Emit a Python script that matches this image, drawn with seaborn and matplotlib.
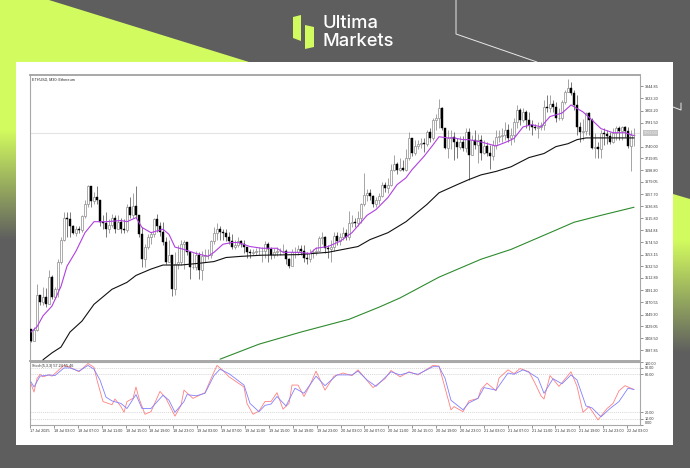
# plot.py
# ETHUSD M30 candles with moving averages and stochastic panel,
# on the Ultima Markets card background.

import numpy as np
import matplotlib
matplotlib.use('Agg')
import matplotlib.pyplot as plt
from matplotlib.patches import Polygon, Rectangle
import seaborn as sns

# ── data ────────────────────────────────────────────────────
closes = [3404, 3422, 3483, 3471, 3479, 3467, 3514, 3479, 3493, 3541,
          3579, 3617, 3614, 3602, 3591, 3597, 3595, 3619, 3641, 3671,
          3645, 3652, 3648, 3610, 3607, 3597, 3605, 3617, 3597, 3610,
          3597, 3595, 3636, 3621, 3638, 3621, 3588, 3545, 3566, 3583,
          3588, 3614, 3603, 3593, 3574, 3540, 3553, 3493, 3536, 3541,
          3571, 3574, 3557, 3531, 3531, 3553, 3526, 3550, 3552, 3553,
          3576, 3591, 3597, 3593, 3590, 3584, 3576, 3567, 3569, 3576,
          3571, 3566, 3557, 3555, 3557, 3559, 3559, 3559, 3572, 3562,
          3553, 3557, 3559, 3559, 3560, 3545, 3533, 3557, 3557, 3562,
          3559, 3548, 3545, 3555, 3557, 3559, 3581, 3584, 3564, 3562,
          3567, 3586, 3576, 3584, 3591, 3583, 3607, 3609, 3607, 3617,
          3640, 3657, 3659, 3655, 3640, 3647, 3654, 3674, 3669, 3674,
          3700, 3710, 3700, 3703, 3700, 3721, 3755, 3729, 3741, 3745,
          3747, 3745, 3766, 3755, 3786, 3790, 3807, 3772, 3738, 3755,
          3757, 3748, 3740, 3748, 3738, 3766, 3726, 3752, 3743, 3752,
          3729, 3741, 3729, 3723, 3743, 3757, 3759, 3760, 3769, 3755,
          3760, 3783, 3804, 3786, 3800, 3786, 3778, 3774, 3772, 3774,
          3778, 3809, 3807, 3814, 3809, 3790, 3790, 3817, 3835, 3842,
          3833, 3812, 3774, 3766, 3767, 3798, 3786, 3738, 3740, 3735,
          3764, 3762, 3759, 3748, 3764, 3772, 3767, 3774, 3767, 3741,
          3760, 3760]
highs = [3419, 3427, 3503, 3483, 3497, 3495, 3526, 3517, 3497, 3545,
         3584, 3626, 3626, 3626, 3605, 3603, 3603, 3622, 3648, 3674,
         3671, 3662, 3671, 3648, 3622, 3626, 3614, 3624, 3622, 3622,
         3617, 3614, 3640, 3652, 3659, 3671, 3610, 3600, 3572, 3588,
         3593, 3617, 3624, 3610, 3610, 3583, 3579, 3553, 3557, 3569,
         3579, 3579, 3574, 3559, 3555, 3559, 3557, 3559, 3562, 3562,
         3579, 3600, 3608, 3603, 3597, 3597, 3593, 3588, 3579, 3583,
         3579, 3579, 3567, 3562, 3562, 3564, 3566, 3566, 3576, 3574,
         3566, 3564, 3566, 3564, 3572, 3562, 3548, 3562, 3566, 3569,
         3569, 3569, 3557, 3562, 3562, 3566, 3586, 3593, 3586, 3569,
         3579, 3593, 3593, 3591, 3600, 3598, 3628, 3621, 3617, 3628,
         3643, 3695, 3666, 3666, 3657, 3652, 3659, 3679, 3678, 3686,
         3709, 3726, 3714, 3721, 3717, 3735, 3766, 3755, 3752, 3752,
         3755, 3755, 3769, 3772, 3790, 3797, 3823, 3809, 3772, 3769,
         3769, 3765, 3755, 3759, 3759, 3772, 3772, 3760, 3769, 3762,
         3760, 3752, 3748, 3743, 3752, 3769, 3769, 3772, 3783, 3779,
         3772, 3790, 3812, 3807, 3807, 3804, 3800, 3786, 3779, 3783,
         3783, 3821, 3829, 3829, 3821, 3817, 3807, 3821, 3838, 3857,
         3852, 3838, 3829, 3783, 3788, 3800, 3800, 3790, 3764, 3748,
         3769, 3772, 3769, 3766, 3772, 3776, 3776, 3776, 3776, 3774,
         3769, 3772]
lows = [3402, 3410, 3421, 3465, 3465, 3462, 3476, 3476, 3476, 3479,
        3536, 3576, 3584, 3584, 3588, 3586, 3591, 3593, 3617, 3635,
        3636, 3641, 3640, 3603, 3597, 3584, 3591, 3600, 3591, 3597,
        3591, 3591, 3593, 3617, 3617, 3617, 3584, 3531, 3531, 3562,
        3571, 3584, 3593, 3586, 3569, 3536, 3541, 3481, 3483, 3528,
        3535, 3528, 3552, 3510, 3528, 3526, 3510, 3509, 3541, 3545,
        3548, 3571, 3579, 3579, 3579, 3576, 3572, 3562, 3562, 3567,
        3567, 3555, 3548, 3548, 3552, 3552, 3552, 3541, 3548, 3541,
        3545, 3548, 3550, 3552, 3555, 3536, 3529, 3535, 3548, 3552,
        3552, 3540, 3536, 3541, 3548, 3552, 3559, 3571, 3555, 3548,
        3541, 3559, 3569, 3569, 3579, 3579, 3579, 3600, 3600, 3603,
        3607, 3638, 3645, 3648, 3635, 3635, 3641, 3652, 3662, 3659,
        3672, 3697, 3693, 3697, 3697, 3697, 3717, 3724, 3726, 3735,
        3738, 3731, 3741, 3748, 3752, 3769, 3772, 3769, 3735, 3721,
        3735, 3717, 3721, 3735, 3733, 3731, 3683, 3726, 3735, 3712,
        3717, 3728, 3724, 3702, 3717, 3735, 3748, 3748, 3752, 3748,
        3743, 3748, 3772, 3778, 3783, 3772, 3769, 3760, 3769, 3755,
        3769, 3769, 3800, 3800, 3800, 3783, 3786, 3786, 3814, 3835,
        3829, 3804, 3760, 3748, 3752, 3760, 3760, 3735, 3721, 3721,
        3721, 3743, 3745, 3745, 3747, 3752, 3752, 3752, 3757, 3738,
        3697, 3741]
first_open = 3425

ma_fast_i = [0, 2, 4, 7, 10, 12, 15, 18, 21, 25, 30, 32, 35, 37, 40, 44, 46, 48, 51, 55, 59,
             61, 64, 67, 69, 73, 77, 82, 84, 89, 93, 95, 99, 103, 107, 112, 115, 119, 122, 125,
             127, 131, 134, 136, 139, 141, 144, 146, 150, 155, 158, 161, 164, 167, 170, 173,
             177, 180, 184, 187, 190, 194, 198, 201]
ma_fast = [3419, 3428, 3447, 3464, 3498, 3533, 3559, 3591, 3610, 3610, 3612, 3610, 3617, 3600,
           3591, 3597, 3588, 3566, 3562, 3555, 3550, 3557, 3571, 3574, 3574, 3567, 3564, 3564,
           3557, 3557, 3555, 3564, 3567, 3576, 3591, 3621, 3631, 3652, 3674, 3686, 3700, 3723,
           3743, 3757, 3755, 3755, 3752, 3752, 3748, 3741, 3747, 3754, 3774, 3778, 3774, 3792,
           3798, 3812, 3800, 3786, 3771, 3764, 3764, 3759]

ma_mid_i = [4, 7, 10, 13, 17, 21, 27, 32, 35, 40, 44, 50, 56, 61, 65, 70, 77, 89, 99, 104, 109,
            113, 119, 125, 132, 136, 142, 146, 150, 155, 160, 166, 171, 175, 179, 182, 185,
            192, 201]
ma_mid = [3371, 3383, 3393, 3419, 3438, 3467, 3493, 3505, 3517, 3528, 3535, 3535, 3538, 3541,
          3548, 3550, 3552, 3553, 3557, 3562, 3567, 3579, 3591, 3610, 3640, 3660, 3674, 3683,
          3691, 3697, 3705, 3721, 3728, 3740, 3745, 3752, 3755, 3755, 3755]

ma_slow_i = [63, 70, 76, 90, 106, 116, 123, 136, 150, 160, 173, 181, 190, 201]
ma_slow = [3372, 3386, 3398, 3419, 3441, 3462, 3478, 3514, 3545, 3562, 3591, 3609, 3621, 3635]

stoch_red_i = [0, 1, 2, 3, 4, 6, 7, 10, 11, 13, 16, 19, 21, 22, 24, 27, 28, 30, 31, 32, 34, 35, 36,
               38, 40, 43, 45, 48, 50, 51, 54, 58, 60, 62, 64, 66, 71, 72, 74, 76, 78, 80, 82, 84,
               86, 87, 89, 91, 93, 95, 98, 101, 104, 107, 109, 111, 114, 118, 120, 123, 126, 129,
               134, 136, 137, 140, 141, 144, 146, 149, 150, 152, 155, 156, 159, 161, 163, 166,
               168, 170, 171, 173, 176, 180, 182, 184, 186, 189, 192, 194, 196, 198, 201]
stoch_red = [65, 52, 73, 80, 76, 79, 77, 90, 94, 91, 84, 97, 91, 71, 37, 32, 41, 29, 20, 37, 42, 60,
             42, 17, 21, 53, 42, 14, 31, 55, 42, 51, 73, 94, 86, 76, 60, 34, 17, 22, 37, 37, 51, 25,
             34, 63, 63, 45, 63, 85, 55, 77, 82, 78, 87, 76, 59, 73, 86, 76, 84, 79, 94, 93, 76, 24,
             29, 21, 38, 42, 56, 66, 54, 74, 87, 81, 89, 84, 66, 46, 41, 78, 61, 84, 61, 20, 29, 8,
             26, 34, 54, 62, 56]

stoch_blue_i = [0, 1, 3, 6, 8, 11, 13, 16, 19, 21, 23, 25, 27, 30, 32, 35, 37, 40, 44, 46, 48, 51,
                52, 55, 58, 61, 63, 66, 71, 73, 76, 78, 80, 82, 85, 88, 91, 95, 98, 102, 107, 109,
                112, 115, 120, 123, 126, 129, 134, 136, 138, 140, 144, 146, 149, 151, 155, 159,
                161, 164, 166, 169, 171, 174, 177, 180, 182, 185, 187, 190, 193, 196, 199, 201]
stoch_blue = [68, 60, 77, 79, 78, 90, 90, 85, 94, 88, 71, 44, 38, 34, 26, 48, 26, 26, 47, 39, 20, 37,
              48, 46, 50, 78, 88, 81, 63, 34, 21, 31, 33, 45, 30, 58, 50, 77, 62, 79, 79, 85, 71, 61,
              84, 79, 83, 80, 92, 92, 74, 39, 24, 35, 42, 59, 55, 82, 80, 87, 83, 74, 50, 73, 65, 79,
              71, 30, 27, 13, 26, 37, 58, 56]

time_labels = ["17 Jul 2025"] + [f"{d} Jul {h}" for d in (18, 19, 20, 21)
                                 for h in ("03:00", "07:00", "11:00", "15:00", "19:00", "23:00")] + ["22 Jul 03:00"]
price_ticks = [3844.85, 3823.30, 3802.20, 3781.50, 3740.00, 3719.85, 3698.80, 3679.05, 3657.70,
               3636.85, 3615.80, 3594.84, 3574.50, 3553.15, 3532.50, 3512.89, 3491.20, 3470.55,
               3449.30, 3429.05, 3408.50, 3387.85]
last_price = 3763.0
stoch_levels = [90, 80, 20, 10]
stoch_ticks = [100, 90, 80, 20, 10, 0]

# ── colours ─────────────────────────────────────────────────
GREY = '#5e5e5e'
LIME = '#d2fb5f'
FRAME = '#a8a8a8'

W, H = 690, 468
sns.set_theme(style='white')
plt.rcParams['font.family'] = ['Liberation Sans', 'DejaVu Sans']

fig = plt.figure(figsize=(W / 100, H / 100), dpi=100, facecolor=GREY)

# ── background + card, in pixel coordinates ─────────────────
bg = fig.add_axes([0, 0, 1, 1], zorder=0)
bg.set_xlim(0, W)
bg.set_ylim(H, 0)
bg.axis('off')


def fade(y0, y1, x0, x1, clip):
    ys = np.linspace(0, 1, 200)[:, None]
    lime = np.array(matplotlib.colors.to_rgb(LIME))
    grey = np.array(matplotlib.colors.to_rgb(GREY))
    img = (lime * (1 - ys) + grey * ys)[:, None, :]
    im = bg.imshow(img, extent=(x0, x1, y1, y0), aspect='auto', zorder=1)
    im.set_clip_path(Polygon(clip, transform=bg.transData))


# left lime wedge and right lime strip
fade(130, 240, 0, 16, [(0, 130), (16, 130), (16, 240), (0, 240)])
bg.add_patch(Polygon([(0, 0), (49, 0), (249, 62), (16, 62), (16, 130), (0, 130)], color=LIME, lw=0, zorder=1))
fade(240, 353, 673, 690, [(673, 240), (690, 240), (690, 353), (673, 353)])
bg.add_patch(Polygon([(673, 194), (690, 199), (690, 240), (673, 240)], color=LIME, lw=0, zorder=1))
bg.set_xlim(0, W)
bg.set_ylim(H, 0)

# thin white outline
bg.plot([456, 456, 537], [0, 34, 62], color='#e8e8e8', lw=0.7, zorder=2)
bg.plot([673, 681, 681], [107, 110, 103], color='#e8e8e8', lw=0.7, zorder=2)

bg.add_patch(Rectangle((16, 62), 657, 383, color='white', lw=0, zorder=3))

# logo
bg.add_patch(Polygon([(293, 17), (301, 15), (301, 41), (293, 38)], color=LIME, lw=0, zorder=4))
bg.add_patch(Polygon([(305, 25), (314, 27), (314, 47), (305, 49)], color=LIME, lw=0, zorder=4))
bg.text(322, 24, "Ultima", color='white', fontsize=13.2, family='Inter', weight='medium', va='center', zorder=4)
bg.text(322, 42, "Markets", color='white', fontsize=13.2, family='Inter', weight='medium', va='center', zorder=4)

# ── main price panel ────────────────────────────────────────
ax = fig.add_axes([30 / W, 1 - 360.7 / H, 610 / W, (360.7 - 75) / H], zorder=2, facecolor='white')
stoch = fig.add_axes([30 / W, 1 - 425 / H, 610 / W, 63.4 / H], zorder=2, facecolor='white')

idx = np.arange(len(closes))
closes_a = np.array(closes)
opens = np.r_[first_open, closes_a[:-1]]
up = closes_a >= opens

ax.axhline(last_price, color='#e4e4e4', lw=0.8, zorder=1)
ax.vlines(idx[up], np.array(lows)[up], np.array(highs)[up], color='#8c8c8c', lw=0.55, zorder=2)
ax.vlines(idx[~up], np.array(lows)[~up], np.array(highs)[~up], color='#555555', lw=0.55, zorder=2)
ax.bar(idx[up], (closes_a - opens)[up], bottom=opens[up], width=0.72,
       color='white', edgecolor='#8c8c8c', linewidth=0.5, zorder=3)
ax.bar(idx[~up], (closes_a - opens)[~up], bottom=opens[~up], width=0.72,
       color='black', edgecolor='black', linewidth=0.3, zorder=3)

sns.lineplot(x=ma_slow_i, y=ma_slow, ax=ax, color='#2e8b2e', linewidth=0.8, estimator=None, zorder=4)
sns.lineplot(x=ma_mid_i, y=ma_mid, ax=ax, color='#111111', linewidth=0.8, estimator=None, zorder=4)
sns.lineplot(x=ma_fast_i, y=ma_fast, ax=ax, color='#b03fe0', linewidth=0.8, estimator=None, zorder=5)

ax.set_xlim(-0.33, 203)
ax.set_ylim(3369.4, 3863.9)
ax.set_xticks([])
ax.yaxis.tick_right()
ax.set_yticks(price_ticks, [f"{p:.2f}" for p in price_ticks])
ax.tick_params(axis='y', length=2, width=0.5, color='#666666', labelsize=2.7, pad=1.5, labelcolor='#333333')
ax.set_xlabel('')
ax.set_ylabel('')
ax.text(0.003, 0.992, "ETHUSD, M30: Ethereum", transform=ax.transAxes, fontsize=2.7,
        va='top', color='#222222')
ax.text(1.006, last_price, f"{last_price:.2f}", transform=ax.get_yaxis_transform(), fontsize=2.7,
        va='center', color='#eeeeee', bbox=dict(facecolor='#c4c4c4', edgecolor='none', pad=0.6))

for spine in ax.spines.values():
    spine.set_color(FRAME)
    spine.set_linewidth(0.8)
ax.spines['top'].set_linewidth(1.4)
ax.spines['bottom'].set_linewidth(1.4)

# ── stochastic panel ────────────────────────────────────────
for lvl in stoch_levels:
    stoch.axhline(lvl, color='#c8c8c8', lw=0.5, ls=(0, (1.5, 1.5)), zorder=1)
sns.lineplot(x=stoch_red_i, y=stoch_red, ax=stoch, color='#ff8080', linewidth=0.6, estimator=None, zorder=3)
sns.lineplot(x=stoch_blue_i, y=stoch_blue, ax=stoch, color='#8080ff', linewidth=0.6, estimator=None, zorder=4)

stoch.set_xlim(-0.33, 203)
stoch.set_ylim(0, 100)
stoch.yaxis.tick_right()
stoch.set_yticks(stoch_ticks, [f"{t:.2f}" for t in stoch_ticks])
for lab, t in zip(stoch.get_yticklabels(), stoch_ticks):
    if t == 100:
        lab.set_va('top')
    elif t == 0:
        lab.set_va('bottom')
tick_pos = np.arange(len(time_labels)) * 7.96 - 0.3
stoch.set_xticks(tick_pos, time_labels, ha='left')
stoch.tick_params(axis='y', length=2, width=0.5, color='#666666', labelsize=2.7, pad=1.5, labelcolor='#333333')
stoch.tick_params(axis='x', length=2, width=0.5, color='#666666', labelsize=2.7, pad=1, labelcolor='#333333', bottom=True)
stoch.set_xlabel('')
stoch.set_ylabel('')
stoch.text(0.003, 0.97, "Stoch(5,3,3) 57.24 55.46", transform=stoch.transAxes, fontsize=2.7,
           va='top', color='#222222')
for spine in stoch.spines.values():
    spine.set_color(FRAME)
    spine.set_linewidth(0.8)

fig.savefig('out.png', dpi=100, facecolor=GREY)
